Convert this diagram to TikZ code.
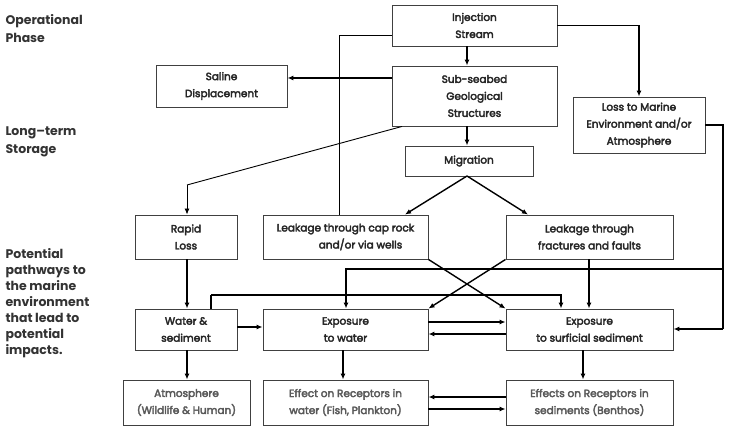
\documentclass[tikz,border=0pt]{standalone}
\usepackage{fontspec}
\setmainfont{Poppins}
\newcommand\thickglyphs[1]{\special{pdf:literal direct 2 Tr #1 w}}
\usetikzlibrary{arrows.meta}
\begin{document}
\begin{tikzpicture}[x=1pt,y=-1pt,
  box/.style={draw=black!75, line width=0.9pt, fill=white, inner sep=1pt, align=center,
    font=\fontsize{10.5}{17}\selectfont\thickglyphs{0.35}, text=black!85},
  lowbox/.style={box, text=black!65},
  side/.style={anchor=west, align=left, font=\fontsize{12.5}{16}\selectfont\bfseries, text=black!80},
  arr/.style={line width=1.4pt, -{Latex[length=6pt,width=5pt]}},
  ln/.style={line width=1.4pt},
  thin/.style={line width=0.9pt}]
\useasboundingbox (0,0) rectangle (730,427);
\fill[white] (0,0) rectangle (730,427);

% left labels
\node[side, font=\fontsize{12.5}{18}\selectfont\bfseries] (lop) at (2,29) {Operational\\Phase};
\node[side, font=\fontsize{12.5}{18}\selectfont\bfseries] (llt) at (2,142) {Long–term\\Storage};
\node[side] (lpp) at (2,303.5) {Potential\\pathways to\\the marine\\environment\\that lead to\\potential\\impacts.};

% boxes
\node[box, minimum width=165, minimum height=41] (inj) at (474.5,25.5) {Injection\\Stream};
\node[box, minimum width=165, minimum height=60] (sub) at (474.5,96) {Sub-seabed\\Geological\\Structures};
\node[box, minimum width=128, minimum height=30] (mig) at (469,161) {Migration};
\node[box, minimum width=132, minimum height=56] (loss) at (639,125) {Loss to Marine\\Environment and/or\\Atmosphere};
\node[box, minimum width=131, minimum height=42] (sal) at (221.5,86) {Saline\\Displacement};
\node[box, minimum width=102, minimum height=44] (rap) at (186,237) {Rapid\\Loss};
\node[box, minimum width=165, minimum height=44] (cap) at (345.5,237) {Leakage through cap rock\\\hspace*{30pt}and/or via wells};
\node[box, minimum width=167, minimum height=44] (frac) at (589.5,237) {Leakage through\\fractures and faults};
\node[box, minimum width=102, minimum height=41] (ws) at (186,329.5) {Water \&\\sediment};
\node[box, minimum width=165, minimum height=41] (ew) at (345.5,329.5) {Exposure\\to water};
\node[box, minimum width=167, minimum height=41] (es) at (589.5,329.5) {Exposure\\to surficial sediment};
\node[lowbox, minimum width=127, minimum height=45] (atm) at (186.5,402.5) {Atmosphere\\(Wildlife \& Human)};
\node[lowbox, minimum width=165, minimum height=45] (rw) at (345.5,402.5) {Effect on Receptors in\\water (Fish, Plankton)};
\node[lowbox, minimum width=167, minimum height=45] (rs) at (589.5,402.5) {Effects on Receptors in\\sediments (Benthos)};

% connectors
\draw[arr] (inj.south -| 467,0) -- (sub.north -| 467,0);
\draw[arr] (inj.east) -| (loss.north -| 639,0);
\draw[thin] (inj.west |- 0,35) -| (cap.north -| 339,0);
\draw[arr] (sub.west |- 0,78) -- (sal.east |- 0,78);
\coordinate (rk) at (187,185);
\draw[thin] (sub.south -| 402,0) -- (rk);
\draw[thin, -{Latex[length=6pt,width=5pt]}] (rk) -- (rap.north -| 187,0);
\draw[arr] (sub.south -| 467,0) -- (mig.north -| 467,0);
\coordinate (mb) at (467,176);
\draw[arr] (mb) -- (cap.north -| 405,0);
\draw[arr] (mb) -- (frac.north -| 528,0);
% right loop
\coordinate (rt) at (723,125);
\coordinate (rb) at (723,329);
\coordinate (rm) at (723,269);
\draw[ln] (loss.east) -- (rt) -- (rb);
\draw[arr] (rb) -- (es.east |- rb);
\draw[arr] (rm) -| (ew.north -| 346,0);
% water & sediment loop
\coordinate (wl) at (211,295);
\draw[ln] (ws.north -| 211,0) -- (wl);
\draw[arr] (wl) -| (es.north -| 561,0);
\draw[arr] (frac.south -| 589,0) -- (es.north -| 589,0);
% crossing
\draw[arr] (cap.south east) -- (es.north west);
\draw[arr] (frac.south west) -- (ew.north east);
% verticals
\draw[arr] (rap.south -| 187,0) -- (ws.north -| 187,0);
\draw[arr] (ws.east |- 0,327) -- (ew.west |- 0,327);
\draw[arr] (ew.east |- 0,322) -- (es.west |- 0,322);
\draw[arr] (es.west |- 0,334) -- (ew.east |- 0,334);
\draw[arr] (ws.south -| 187,0) -- (atm.north -| 187,0);
\draw[arr] (ew.south -| 343,0) -- (rw.north -| 343,0);
\draw[arr] (es.south -| 583,0) -- (rs.north -| 583,0);
\draw[arr] (rs.west |- 0,397) -- (rw.east |- 0,397);
\draw[arr] (rw.east |- 0,409) -- (rs.west |- 0,409);
\end{tikzpicture}
\end{document}
